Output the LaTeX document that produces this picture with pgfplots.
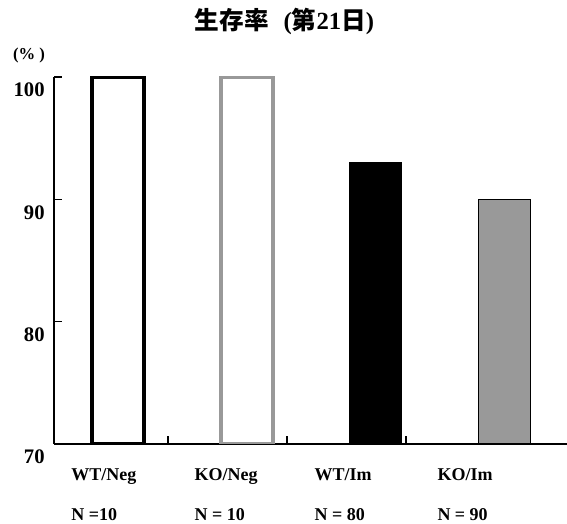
\documentclass[border=0pt]{standalone}
\usepackage{fontspec}
\setmainfont{Liberation Serif}
\newfontfamily\cjk{Noto Sans CJK JP}
\usepackage{pgfplots}
\pgfplotsset{compat=1.18}
\definecolor{bargray}{HTML}{999999}

\begin{document}
\begin{tikzpicture}
% page = 567 x 524 px at 0.75pt per px, axis corner at (54,444) px
\useasboundingbox (-40.5pt,-60pt) rectangle (384.75pt,333pt);
\begin{axis}[
    name=ax,
    at={(0,0)}, anchor=south west,
    scale only axis,
    width=384.75pt, height=275.25pt,
    xmin=-0.497, xmax=3.486,
    ymin=70, ymax=100,
    y coord trafo/.code={\pgfmathparse{#1-70}},
    y coord inv trafo/.code={\pgfmathparse{#1+70}},
    axis lines=left,
    axis line style={-, line width=0.9pt},
    tick align=inside,
    major tick length=6pt,
    tick style={black, line width=0.9pt},
    ytick={70,80,90,100},
    xtick={0.388,1.312,2.236},
    xticklabels={},
    extra x ticks={-0.109,0.839,1.747,2.694},
    extra x tick labels={{WT/Neg\\N =10},{KO/Neg\\N = 10},{WT/Im\\N = 80},{KO/Im\\N = 90}},
    extra x tick style={major tick length=0pt},
    x tick label style={font=\fontsize{13.5}{30}\selectfont\bfseries, align=left, yshift=-15pt},
    y tick label style={font=\fontsize{15.5}{17}\selectfont\bfseries, yshift=-9.75pt, xshift=-3.5pt},
    /pgf/number format/assume math mode=true,
    title={{\cjk 生存率}\hspace{0.6em}({\cjk 第}21{\cjk 日})},
    title style={font=\fontsize{18.5}{21}\selectfont\bfseries, at={(rel axis cs:0.5,1)}, anchor=center, xshift=-19.5pt, yshift=36pt},
    ylabel={(\% )},
    ylabel style={rotate=-90, at={(rel axis cs:0,1)}, anchor=center, xshift=-18.75pt, yshift=16.5pt, font=\fontsize{12.5}{14}\selectfont\bfseries},
]
\addplot[ybar, bar width=0.404, bar shift=0pt, draw=black, fill=white, line width=3pt] coordinates {(0,100)};
\addplot[ybar, bar width=0.404, bar shift=0pt, draw=bargray, fill=white, line width=3pt] coordinates {(1,100)};
\addplot[ybar, bar width=0.404, bar shift=0pt, draw=black, fill=black, line width=0.8pt] coordinates {(2,93)};
\addplot[ybar, bar width=0.404, bar shift=0pt, draw=black, fill=bargray, line width=0.8pt] coordinates {(3,90)};
\end{axis}
\end{tikzpicture}
\end{document}
